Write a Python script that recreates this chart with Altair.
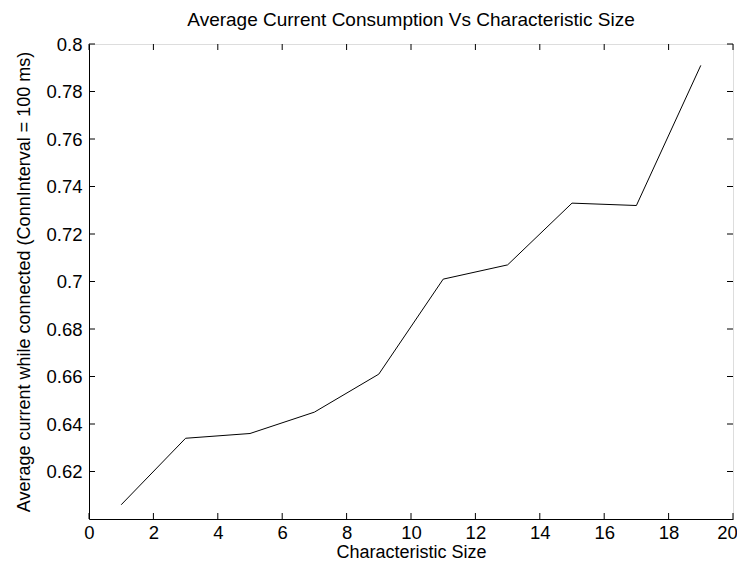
import altair as alt
import pandas as pd

# Data
sizes = [1, 3, 5, 7, 9, 11, 13, 15, 17, 19]
currents = [0.606, 0.634, 0.636, 0.645, 0.661, 0.701, 0.707, 0.733, 0.732, 0.791]

x_ticks = [0, 2, 4, 6, 8, 10, 12, 14, 16, 18, 20]
y_ticks = [0.62, 0.64, 0.66, 0.68, 0.70, 0.72, 0.74, 0.76, 0.78, 0.80]

W, H = 644, 475
FONT = "Liberation Sans"

df = pd.DataFrame({"size": sizes, "current": currents})
xt = pd.DataFrame({"xt": x_ticks})
yt = pd.DataFrame({"yt": y_ticks})

xscale = alt.Scale(domain=[0, 20], nice=False, zero=False)
yscale = alt.Scale(domain=[0.6, 0.8], nice=False, zero=False)

line = alt.Chart(df).mark_line(color="black", strokeWidth=1).encode(
    x=alt.X("size:Q", scale=xscale, title="Characteristic Size",
            axis=alt.Axis(values=x_ticks, ticks=False, grid=False, domainColor="black",
                          labelFlush=False, labelPadding=4,
                          labelOffset={"condition": {"test": "datum.value == 20", "value": -6},
                                       "value": 0},
                          titleY=38, titleBaseline="alphabetic",
                          labelFontSize=18.5, titleFontSize=18, labelColor="black",
                          titleColor="black", labelFont=FONT, titleFont=FONT,
                          titleFontWeight="normal")),
    y=alt.Y("current:Q", scale=yscale,
            title="Average current while connected (ConnInterval = 100 ms)",
            axis=alt.Axis(values=y_ticks, format=".2~f", ticks=False, grid=False,
                          labelFlush=False, domainColor="black", labelPadding=7,
                          titlePadding=12, labelFontSize=18.5, titleFontSize=18,
                          labelColor="black", titleColor="black", labelFont=FONT,
                          titleFont=FONT, titleFontWeight="normal")),
)

tick_len = 6
xb = alt.Chart(xt).mark_rule(color="black").encode(
    x=alt.X("xt:Q", scale=xscale), y=alt.value(H), y2=alt.value(H - tick_len))
xtop = alt.Chart(xt).mark_rule(color="black").encode(
    x=alt.X("xt:Q", scale=xscale), y=alt.value(0), y2=alt.value(tick_len))
yl = alt.Chart(yt).mark_rule(color="black").encode(
    y=alt.Y("yt:Q", scale=yscale), x=alt.value(0), x2=alt.value(tick_len))
yr = alt.Chart(yt).mark_rule(color="black").encode(
    y=alt.Y("yt:Q", scale=yscale), x=alt.value(W), x2=alt.value(W - tick_len))

chart = alt.layer(line, xb, xtop, yl, yr).properties(
    width=W, height=H,
    title=alt.TitleParams("Average Current Consumption Vs Characteristic Size",
                          font=FONT, fontSize=19, fontWeight="normal", color="black",
                          offset=5),
    autosize=alt.AutoSizeParams(type="none"),
    padding={"left": 81, "top": 36, "right": 4, "bottom": 41},
).configure_view(stroke="black", strokeWidth=1).configure(background="white")

chart.save("out.html", embed_options={"renderer": "svg", "actions": False})
